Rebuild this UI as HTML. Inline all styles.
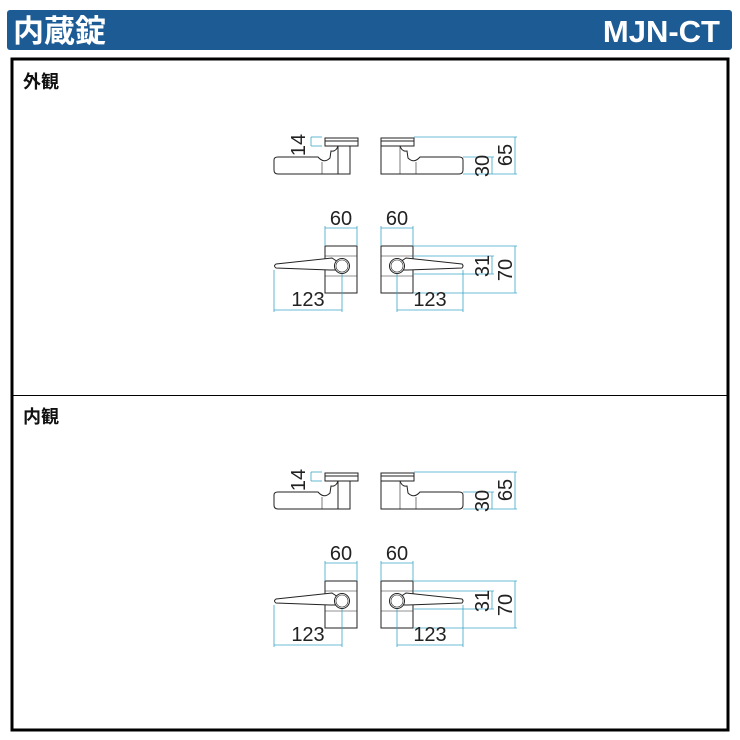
<!DOCTYPE html>
<html><head><meta charset="utf-8"><style>
html,body{margin:0;padding:0;background:#fff;width:740px;height:740px;overflow:hidden}
</style></head><body>
<svg width="740" height="740" viewBox="0 0 740 740" xmlns="http://www.w3.org/2000/svg" font-family="Liberation Sans, sans-serif">
<defs>
<g id="set">
 <g fill="none" stroke="#222" stroke-width="1">
  <rect x="325" y="138" width="33" height="8" fill="#fff"/>
  <line x1="325" y1="141" x2="358" y2="141"/>
  <path d="M338 146 V174 H278 Q274 174 274 170 V160 Q274 157 278 157 H318 Q324 164 330 158 L331 151 Q336 152 338 146"/>
  <line x1="322" y1="162" x2="322" y2="174" stroke-width="0.6"/>
  <path d="M338 146 H350 V174 H338" />
  <rect x="381" y="138" width="33" height="8" fill="#fff"/>
  <line x1="381" y1="141" x2="414" y2="141"/>
  <path d="M381 146 V174 H459 Q463 174 463 170 V160 Q463 157 459 157 H420 Q414 164 408 158 L407 151 Q402 152 400 146"/>
  <line x1="400" y1="146" x2="400" y2="174" stroke-width="0.6"/>
  <line x1="416" y1="162" x2="416" y2="174" stroke-width="0.6"/>
 </g>
 <g fill="none" stroke="#3aa6c8" stroke-width="0.8">
  <line x1="311" y1="137" x2="311" y2="146"/>
  <line x1="311" y1="137" x2="322" y2="137"/><line x1="311" y1="146" x2="322" y2="146"/>
  <line x1="414" y1="137" x2="517" y2="137"/>
  <line x1="463" y1="157" x2="494" y2="157"/>
  <line x1="463" y1="174" x2="517" y2="174"/>
  <line x1="492" y1="157" x2="492" y2="174"/>
  <line x1="515" y1="137" x2="515" y2="174"/>
 </g>
 <g font-size="20" fill="#222" text-anchor="middle">
  <text transform="translate(305,145) rotate(-90)">14</text>
  <text transform="translate(489,166) rotate(-90)">30</text>
  <text transform="translate(512,155) rotate(-90)">65</text>
 </g>
 <g fill="#fff" stroke="#222" stroke-width="1">
  <rect x="325" y="246" width="32" height="47"/>
  <line x1="325" y1="256" x2="357" y2="256" stroke-width="0.6"/>
  <line x1="325" y1="276" x2="357" y2="276" stroke-width="0.6"/>
  <path d="M276 264 L332 258 L338 262 L338 270 L330 270 L276 268 Q273 266 276 264Z"/>
  <circle cx="342" cy="266" r="7.5"/>
  <circle cx="342" cy="266" r="6" fill="none" stroke-width="0.6"/>
  <rect x="381" y="246" width="32" height="47"/>
  <line x1="381" y1="256" x2="413" y2="256" stroke-width="0.6"/>
  <line x1="381" y1="276" x2="413" y2="276" stroke-width="0.6"/>
  <path d="M462 264 L406 258 L400 262 L400 270 L408 270 L462 268 Q464 266 462 264Z"/>
  <circle cx="397" cy="266" r="7.5"/>
  <circle cx="397" cy="266" r="6" fill="none" stroke-width="0.6"/>
 </g>
 <g fill="none" stroke="#3aa6c8" stroke-width="0.8">
  <line x1="325" y1="228" x2="357" y2="228"/>
  <line x1="325" y1="226" x2="325" y2="246"/><line x1="357" y1="226" x2="357" y2="246"/>
  <line x1="381" y1="228" x2="413" y2="228"/>
  <line x1="381" y1="226" x2="381" y2="246"/><line x1="413" y1="226" x2="413" y2="246"/>
  <line x1="274" y1="310" x2="342" y2="310"/>
  <line x1="274" y1="270" x2="274" y2="312"/><line x1="342" y1="274" x2="342" y2="312"/>
  <line x1="397" y1="310" x2="463" y2="310"/>
  <line x1="397" y1="274" x2="397" y2="312"/><line x1="463" y1="270" x2="463" y2="312"/>
  <line x1="413" y1="246" x2="517" y2="246"/>
  <line x1="413" y1="293" x2="517" y2="293"/>
  <line x1="515" y1="246" x2="515" y2="293"/>
  <line x1="413" y1="256" x2="494" y2="256"/>
  <line x1="413" y1="274" x2="494" y2="274"/>
  <line x1="492" y1="256" x2="492" y2="274"/>
 </g>
 <g font-size="20" fill="#222" text-anchor="middle">
  <text x="341" y="225">60</text>
  <text x="397" y="225">60</text>
  <text x="308" y="306">123</text>
  <text x="430" y="306">123</text>
  <text transform="translate(489,266) rotate(-90)">31</text>
  <text transform="translate(512,270) rotate(-90)">70</text>
 </g>
</g>
</defs>
<rect x="7" y="10" width="725" height="40" rx="3" fill="#1d5b95"/>
<text x="13" y="42" font-size="31" font-weight="bold" fill="#fff" font-family="Liberation Sans, Noto Sans CJK JP, sans-serif">内蔵錠</text>
<text x="720" y="42" font-size="31" font-weight="bold" fill="#fff" text-anchor="end">MJN-CT</text>
<rect x="12" y="59" width="716" height="671" fill="none" stroke="#000" stroke-width="3"/>
<line x1="12" y1="395.5" x2="728" y2="395.5" stroke="#000" stroke-width="1"/>
<text x="23" y="88" font-size="18" font-weight="bold" fill="#111" font-family="Liberation Sans, Noto Sans CJK JP, sans-serif">外観</text>
<text x="23" y="423" font-size="18" font-weight="bold" fill="#111" font-family="Liberation Sans, Noto Sans CJK JP, sans-serif">内観</text>
<use href="#set"/>
<use href="#set" transform="translate(0,335)"/>
</svg>
</body></html>
